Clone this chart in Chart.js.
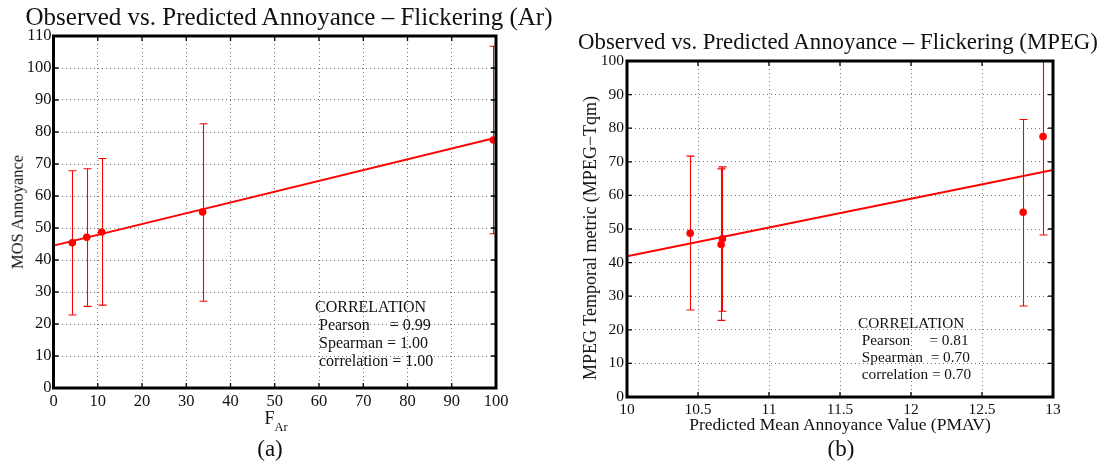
<!DOCTYPE html>
<html>
<head>
<meta charset="utf-8">
<script src="https://cdn.jsdelivr.net/npm/chart.js@4.4.1/dist/chart.umd.min.js"></script>
<style>
  body { margin: 0; background: #fff; }
  #wrap { position: relative; width: 1108px; height: 467px; overflow: hidden; font-family: "Liberation Serif", "Times New Roman", serif; color: #111; }
  canvas { position: absolute; top: 0; }
  .txt { position: absolute; white-space: pre; line-height: 1; }
  .ctr { transform: translate(-50%, -50%); }
  .rot { transform: translate(-50%, -50%) rotate(-90deg); }
  .corr { position: absolute; white-space: pre; }
</style>
</head>
<body>
<div id="wrap">
  <canvas id="chartA" width="554" height="467" style="left:0"></canvas>
  <canvas id="chartB" width="548" height="467" style="left:560px"></canvas>

  <div class="txt ctr" style="left:289px; top:16px; font-size:25px">Observed vs. Predicted Annoyance – Flickering (Ar)</div>
  <div class="txt rot" style="left:18px; top:212px; font-size:16.5px">MOS Annoyance</div>
  <div class="txt ctr" style="left:276px; top:418px; font-size:18px">F<span style="font-size:12.5px; position:relative; top:7px">Ar</span></div>
  <div class="txt ctr" style="left:270px; top:448px; font-size:23px">(a)</div>
  <div class="corr" style="left:315px; top:297.5px; font-size:16px; line-height:18px">CORRELATION
 Pearson     = 0.99
 Spearman = 1.00
 correlation = 1.00</div>

  <div class="txt ctr" style="left:838px; top:42px; font-size:22.8px">Observed vs. Predicted Annoyance – Flickering (MPEG)</div>
  <div class="txt rot" style="left:590px; top:238px; font-size:18px">MPEG Temporal metric (MPEG−Tqm)</div>
  <div class="txt ctr" style="left:840px; top:425px; font-size:17.5px">Predicted Mean Annoyance Value (PMAV)</div>
  <div class="txt ctr" style="left:841px; top:448px; font-size:23px">(b)</div>
  <div class="corr" style="left:858px; top:313.5px; font-size:15.3px; line-height:17px">CORRELATION
 Pearson     = 0.81
 Spearman  = 0.70
 correlation = 0.70</div>
</div>

<script>
// observed MOS (same stimuli in both panels)
const mos = [45.4, 47.1, 48.75, 55, 77.5];
const mosLow = [22.8, 25.5, 25.9, 27.1, 48.2];
const mosHigh = [67.9, 68.5, 71.7, 82.6, 106.8];

// panel (a): F_Ar metric
const fAr = [4.25, 7.5, 10.9, 33.7, 99.4];
const fitAx = [0, 100];
const fitAy = [44.5, 78.2];
const xTicksA = [0, 10, 20, 30, 40, 50, 60, 70, 80, 90, 100];
const yTicksA = [0, 10, 20, 30, 40, 50, 60, 70, 80, 90, 100, 110];

// panel (b): PMAV
const pmav = [10.663, 10.672, 10.445, 12.79, 12.93];
const fitBx = [10, 13];
const fitBy = [41.9, 67.6];
const xTicksB = [10, 10.5, 11, 11.5, 12, 12.5, 13];
const yTicksB = [0, 10, 20, 30, 40, 50, 60, 70, 80, 90, 100];

const RED = '#ff0000';

const errorBars = {
  id: 'errorBars',
  beforeDatasetsDraw(chart) {
    const { ctx, chartArea: a, scales: { x, y } } = chart;
    const xs = chart.options.plugins.errorBars.xs;
    ctx.save();
    ctx.beginPath();
    ctx.rect(a.left, a.top, a.right - a.left, a.bottom - a.top);
    ctx.clip();
    ctx.strokeStyle = RED;
    ctx.lineWidth = 1.1;
    xs.forEach((v, i) => {
      const px = Math.round(x.getPixelForValue(v)) + 0.5;
      const lo = y.getPixelForValue(mosLow[i]);
      const hi = y.getPixelForValue(mosHigh[i]);
      ctx.beginPath();
      ctx.moveTo(px, lo); ctx.lineTo(px, hi);
      ctx.moveTo(px - 4, lo); ctx.lineTo(px + 4, lo);
      ctx.moveTo(px - 4, hi); ctx.lineTo(px + 4, hi);
      ctx.stroke();
    });
    ctx.restore();
  }
};

// matlab style box with inward ticks
const frame = {
  id: 'frame',
  afterDraw(chart) {
    const { ctx, chartArea: a, scales: { x, y } } = chart;
    ctx.save();
    ctx.strokeStyle = '#000';
    ctx.lineWidth = 1.3;
    ctx.beginPath();
    x.ticks.forEach(t => {
      const px = x.getPixelForValue(t.value);
      ctx.moveTo(px, a.bottom); ctx.lineTo(px, a.bottom - 5);
      ctx.moveTo(px, a.top); ctx.lineTo(px, a.top + 5);
    });
    y.ticks.forEach(t => {
      const py = y.getPixelForValue(t.value);
      ctx.moveTo(a.left, py); ctx.lineTo(a.left + 5, py);
      ctx.moveTo(a.right, py); ctx.lineTo(a.right - 5, py);
    });
    ctx.stroke();
    ctx.lineWidth = 3;
    ctx.strokeRect(a.left, a.top, a.right - a.left, a.bottom - a.top);
    ctx.restore();
  }
};

function makeChart(id, opt) {
  return new Chart(document.getElementById(id), {
    data: {
      datasets: [
        {
          type: 'scatter',
          data: opt.xs.map((v, i) => ({ x: v, y: mos[i] })),
          backgroundColor: RED, borderWidth: 0, pointRadius: 3.8, pointHoverRadius: 3.8
        },
        {
          type: 'line',
          data: opt.fitX.map((v, i) => ({ x: v, y: opt.fitY[i] })),
          borderColor: RED, borderWidth: 2, pointRadius: 0, fill: false
        }
      ]
    },
    options: {
      responsive: false,
      animation: false,
      events: [],
      layout: { padding: { top: opt.top, right: opt.padRight, left: 0, bottom: 0 } },
      plugins: { legend: { display: false }, tooltip: { enabled: false }, errorBars: { xs: opt.xs } },
      scales: {
        x: {
          type: 'linear', min: opt.xMin, max: opt.xMax,
          afterBuildTicks: s => { s.ticks = opt.xTicks.map(v => ({ value: v })); },
          afterFit: s => { s.height = opt.xHeight; },
          grid: { color: '#777', lineWidth: 1, drawTicks: false },
          border: { display: false, dash: [1, 3] },
          ticks: { color: '#111', padding: 4, maxRotation: 0, autoSkip: false, callback: v => String(v), font: { family: 'Liberation Serif', size: opt.tickSize } }
        },
        y: {
          type: 'linear', min: opt.yMin, max: opt.yMax,
          afterBuildTicks: s => { s.ticks = opt.yTicks.map(v => ({ value: v })); },
          afterFit: s => { s.width = opt.yWidth; },
          grid: { color: '#777', lineWidth: 1, drawTicks: false },
          border: { display: false, dash: [1, 3] },
          ticks: { color: '#111', padding: opt.yPad, autoSkip: false, callback: v => String(v), font: { family: 'Liberation Serif', size: opt.tickSize } }
        }
      }
    },
    plugins: [errorBars, frame]
  });
}

makeChart('chartA', {
  xs: fAr, fitX: fitAx, fitY: fitAy,
  xMin: 0, xMax: 100, yMin: 0, yMax: 110,
  xTicks: xTicksA, yTicks: yTicksA, tickSize: 16.5, yPad: 2,
  top: 36, padRight: 554 - 496, yWidth: 53.5, xHeight: 467 - 388
});

makeChart('chartB', {
  xs: pmav, fitX: fitBx, fitY: fitBy,
  xMin: 10, xMax: 13, yMin: 0, yMax: 100,
  xTicks: xTicksB, yTicks: yTicksB, tickSize: 15.5, yPad: 3,
  top: 61, padRight: 548 - 493, yWidth: 67, xHeight: 467 - 397
});
</script>
</body>
</html>
